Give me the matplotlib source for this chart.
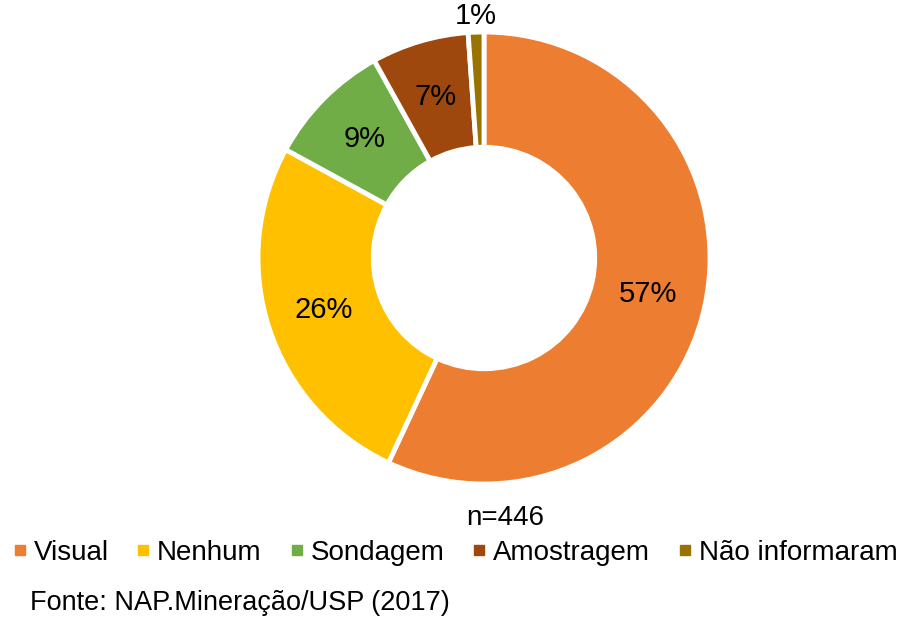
import numpy as np
import matplotlib
matplotlib.use('Agg')
from matplotlib import pyplot as plt
from matplotlib.lines import Line2D

plt.rcParams['font.family'] = ['Liberation Sans', 'DejaVu Sans']

categories = ['Visual', 'Nenhum', 'Sondagem', 'Amostragem', 'Não informaram']
counts = [254, 116, 40, 31, 5]
colors = ['#ED7D31', '#FFC000', '#70AD47', '#9E480E', '#997300']
total_label = 'n=446'
source = 'Fonte: NAP.Mineração/USP (2017)'

fig = plt.figure(figsize=(9.01, 6.17), dpi=100)
ax = fig.add_axes([258 / 901, 1 - 484 / 617, 452 / 901, 452 / 617])

wedges, texts, autotexts = ax.pie(
    counts, colors=colors, startangle=90, counterclock=False, radius=1,
    autopct='%.0f%%', pctdistance=0.745,
    wedgeprops=dict(width=0.51, edgecolor='white', linewidth=3.5),
    textprops=dict(fontsize=21, color='black'))
ax.set_xlim(-1, 1)
ax.set_ylim(-1, 1)
ax.set_aspect('equal')

# smallest slice gets its label outside the ring
w = wedges[-1]
mid = np.deg2rad((w.theta1 + w.theta2) / 2)
autotexts[-1].set_position((1.07 * np.cos(mid), 1.07 * np.sin(mid)))

fig.text(505 / 901, 1 - 518 / 617, total_label, ha='center', va='center', fontsize=20)

handles = [Line2D([], [], marker='s', linestyle='none', markersize=7,
                  markerfacecolor=c, markeredgecolor=c) for c in colors]
fig.legend(handles, categories, loc='center', ncol=5, frameon=False,
           bbox_to_anchor=(455 / 901, 1 - 553 / 617), fontsize=20,
           handlelength=0.5, handletextpad=0.25, columnspacing=1.0,
           borderaxespad=0)

fig.text(30 / 901, 1 - 603 / 617, source, ha='left', va='center', fontsize=19.5)

fig.savefig('out.png', dpi=100)
